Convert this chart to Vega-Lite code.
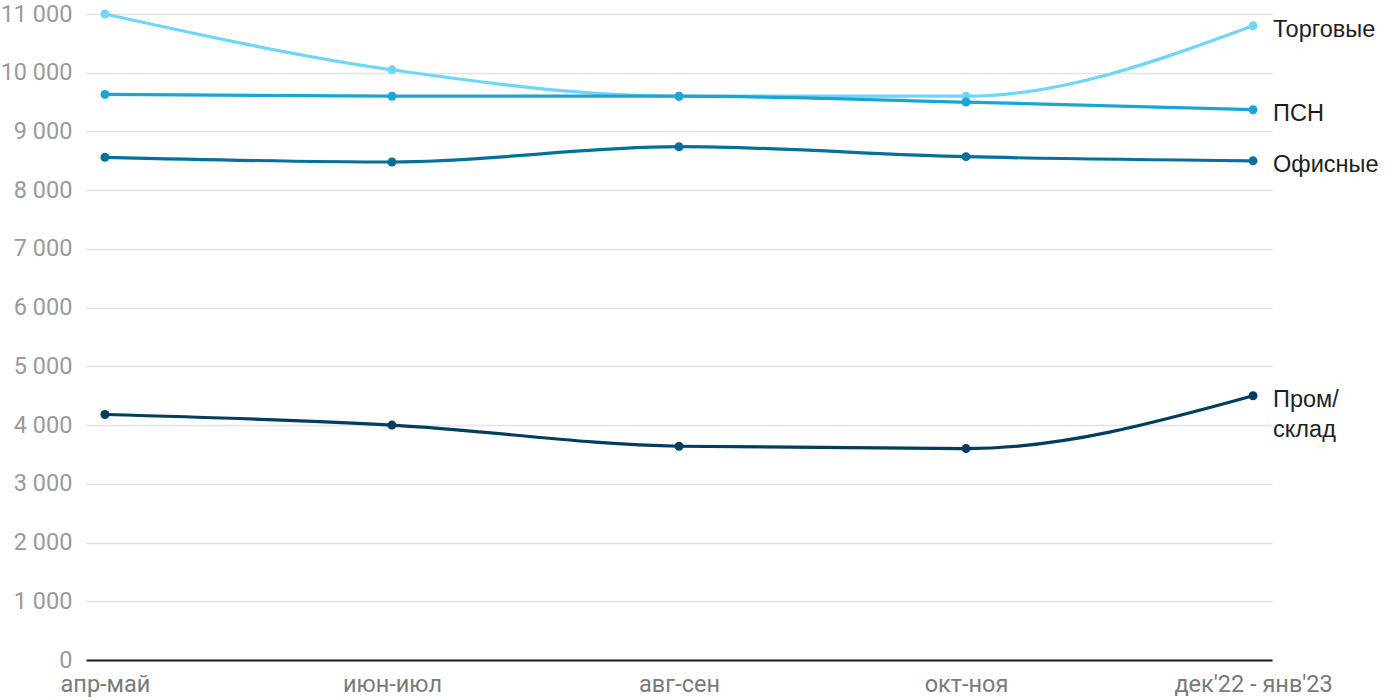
{
  "$schema": "https://vega.github.io/schema/vega-lite/v6.json",
  "autosize": {"type": "none"},
  "width": 1186,
  "height": 646,
  "padding": {"left": 86, "top": 14, "right": 128, "bottom": 40},
  "background": "white",
  "config": {"view": {"stroke": null}, "font": "Roboto"},
  "data": {"values": [
    {"period": "апр-май", "series": "Торговые", "value": 11000},
    {"period": "июн-июл", "series": "Торговые", "value": 10050},
    {"period": "авг-сен", "series": "Торговые", "value": 9600},
    {"period": "окт-ноя", "series": "Торговые", "value": 9600},
    {"period": "дек'22 - янв'23", "series": "Торговые", "value": 10800, "label": "Торговые"},
    {"period": "апр-май", "series": "ПСН", "value": 9630},
    {"period": "июн-июл", "series": "ПСН", "value": 9600},
    {"period": "авг-сен", "series": "ПСН", "value": 9600},
    {"period": "окт-ноя", "series": "ПСН", "value": 9500},
    {"period": "дек'22 - янв'23", "series": "ПСН", "value": 9370, "label": "ПСН"},
    {"period": "апр-май", "series": "Офисные", "value": 8560},
    {"period": "июн-июл", "series": "Офисные", "value": 8480},
    {"period": "авг-сен", "series": "Офисные", "value": 8740},
    {"period": "окт-ноя", "series": "Офисные", "value": 8570},
    {"period": "дек'22 - янв'23", "series": "Офисные", "value": 8500, "label": "Офисные"},
    {"period": "апр-май", "series": "Пром/склад", "value": 4180},
    {"period": "июн-июл", "series": "Пром/склад", "value": 4000},
    {"period": "авг-сен", "series": "Пром/склад", "value": 3640},
    {"period": "окт-ноя", "series": "Пром/склад", "value": 3600},
    {"period": "дек'22 - янв'23", "series": "Пром/склад", "value": 4500, "label": "Пром/\nсклад"}
  ]},
  "encoding": {
    "x": {
      "field": "period", "type": "ordinal", "sort": null,
      "scale": {"type": "point", "padding": 0.066},
      "axis": {
        "title": null, "labelAngle": 0, "labelFontSize": 23.5, "labelColor": "#7a7a7a",
        "labelPadding": 12, "ticks": false, "domainColor": "#1a1a1a", "domainWidth": 2,
        "grid": false
      }
    },
    "y": {
      "field": "value", "type": "quantitative",
      "scale": {"domain": [0, 11000], "nice": false},
      "axis": {
        "title": null, "values": [0,1000,2000,3000,4000,5000,6000,7000,8000,9000,10000,11000],
        "labelExpr": "replace(format(datum.value, ','), ',', ' ')",
        "labelFontSize": 23.5, "labelColor": "#9a9a9a", "labelPadding": 14,
        "ticks": false, "domain": false, "gridColor": "#e3e3e3", "gridWidth": 1.5
      }
    },
    "color": {
      "field": "series", "type": "nominal", "legend": null,
      "scale": {
        "domain": ["Торговые", "ПСН", "Офисные", "Пром/склад"],
        "range": ["#6dd6fa", "#1ba5d3", "#06709a", "#003d5e"]
      }
    }
  },
  "layer": [
    {"mark": {"type": "line", "interpolate": "monotone", "strokeWidth": 3.2}},
    {"mark": {"type": "point", "filled": true, "opacity": 1, "size": 80}},
    {
      "transform": [{"filter": "datum.label != null"}],
      "mark": {"type": "text", "align": "left", "baseline": "top", "dx": 20, "dy": -8,
               "fontSize": 23.5, "font": "Liberation Sans", "color": "#1e1e1e",
               "lineBreak": "\n", "lineHeight": 30},
      "encoding": {"text": {"field": "label"}, "color": {"value": "#1e1e1e"}}
    }
  ]
}
